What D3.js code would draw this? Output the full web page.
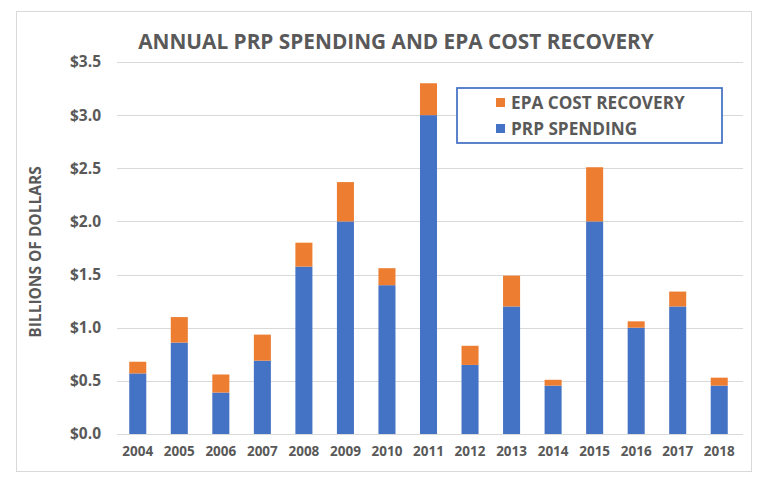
<!DOCTYPE html>
<html>
<head>
<meta charset="utf-8">
<script src="https://cdn.jsdelivr.net/npm/d3@7"></script>
<style>
  html, body { margin: 0; padding: 0; background: #fff; }
  svg { display: block; }
  text { font-family: "Open Sans", "Noto Sans", sans-serif; font-weight: bold; fill: #595959; }
</style>
</head>
<body>
<svg id="chart" width="763" height="479"></svg>
<script>
const years = ["2004","2005","2006","2007","2008","2009","2010","2011","2012","2013","2014","2015","2016","2017","2018"];
const prpSpending = [0.57, 0.86, 0.39, 0.69, 1.575, 2.0, 1.40, 3.0, 0.65, 1.20, 0.455, 2.0, 1.0, 1.20, 0.455];
const epaRecovery = [0.11, 0.24, 0.17, 0.245, 0.225, 0.37, 0.16, 0.30, 0.18, 0.29, 0.055, 0.51, 0.06, 0.14, 0.075];
const yTicks = [0, 0.5, 1.0, 1.5, 2.0, 2.5, 3.0, 3.5];
const seriesNames = ["EPA COST RECOVERY", "PRP SPENDING"];
const seriesColors = ["#ED7D31", "#4472C4"];
const titleText = "ANNUAL PRP SPENDING AND EPA COST RECOVERY";
const yTitle = "BILLIONS OF DOLLARS";

const svg = d3.select("#chart");

// outer chart border
svg.append("rect").attr("x", 16.5).attr("y", 11.5).attr("width", 735).attr("height", 460)
  .attr("fill", "#fff").attr("stroke", "#d9d9d9").attr("stroke-width", 1);

const x = d3.scaleBand().domain(years).range([117, 740]).paddingInner(0.59).paddingOuter(0.295);
const y = d3.scaleLinear().domain([0, 3.5]).range([434, 62]);

// gridlines
const yAxis = d3.axisLeft(y).tickValues(yTicks).tickSize(-(743 - 117)).tickPadding(16)
  .tickFormat(d => "$" + d3.format(".1f")(d));
const gy = svg.append("g").attr("transform", "translate(117,0)").call(yAxis);
gy.select(".domain").remove();
gy.selectAll(".tick line").attr("stroke", "#d9d9d9").attr("stroke-width", 1).attr("shape-rendering", "crispEdges");
gy.selectAll(".tick text").attr("font-size", 15.5).attr("fill", "#595959")
  .style("font-family", "'Open Sans', sans-serif").style("font-weight", "bold");

// stacked bars
const rows = years.map((yr, i) => ({ year: yr, prp: prpSpending[i], epa: epaRecovery[i] }));
const stack = d3.stack().keys(["prp", "epa"])(rows);
const colorByKey = { prp: seriesColors[1], epa: seriesColors[0] };
svg.append("g").selectAll("g").data(stack).join("g")
  .attr("fill", d => colorByKey[d.key])
  .selectAll("rect").data(d => d).join("rect")
  .attr("x", d => x(d.data.year))
  .attr("width", x.bandwidth())
  .attr("y", d => y(d[1]))
  .attr("height", d => y(d[0]) - y(d[1]));

// x axis
const xAxis = d3.axisBottom(x).tickSize(0).tickPadding(12);
const gx = svg.append("g").attr("transform", "translate(0,434)").call(xAxis);
gx.select(".domain").attr("stroke", "#d9d9d9").attr("d", "M117,0.5H740");
gx.selectAll(".tick text").attr("font-size", 13.5).attr("fill", "#595959")
  .style("font-family", "'Open Sans', sans-serif").style("font-weight", "bold");

// title
svg.append("text").attr("x", 396).attr("y", 49).attr("text-anchor", "middle")
  .attr("font-size", 20.8).text(titleText);

// y axis title
svg.append("text").attr("transform", "translate(41,252) rotate(-90)").attr("text-anchor", "middle")
  .attr("font-size", 15.5).text(yTitle);

// legend
const lg = svg.append("g");
lg.append("rect").attr("x", 457).attr("y", 88).attr("width", 265).attr("height", 55)
  .attr("fill", "#fff").attr("stroke", "#4472C4").attr("stroke-width", 1.75);
seriesNames.forEach((name, i) => {
  const yy = 98 + i * 26;
  lg.append("rect").attr("x", 496).attr("y", yy).attr("width", 9).attr("height", 9).attr("fill", seriesColors[i]);
  lg.append("text").attr("x", 511).attr("y", yy + 10.5).attr("font-size", 17.2).text(name);
});
</script>
</body>
</html>
